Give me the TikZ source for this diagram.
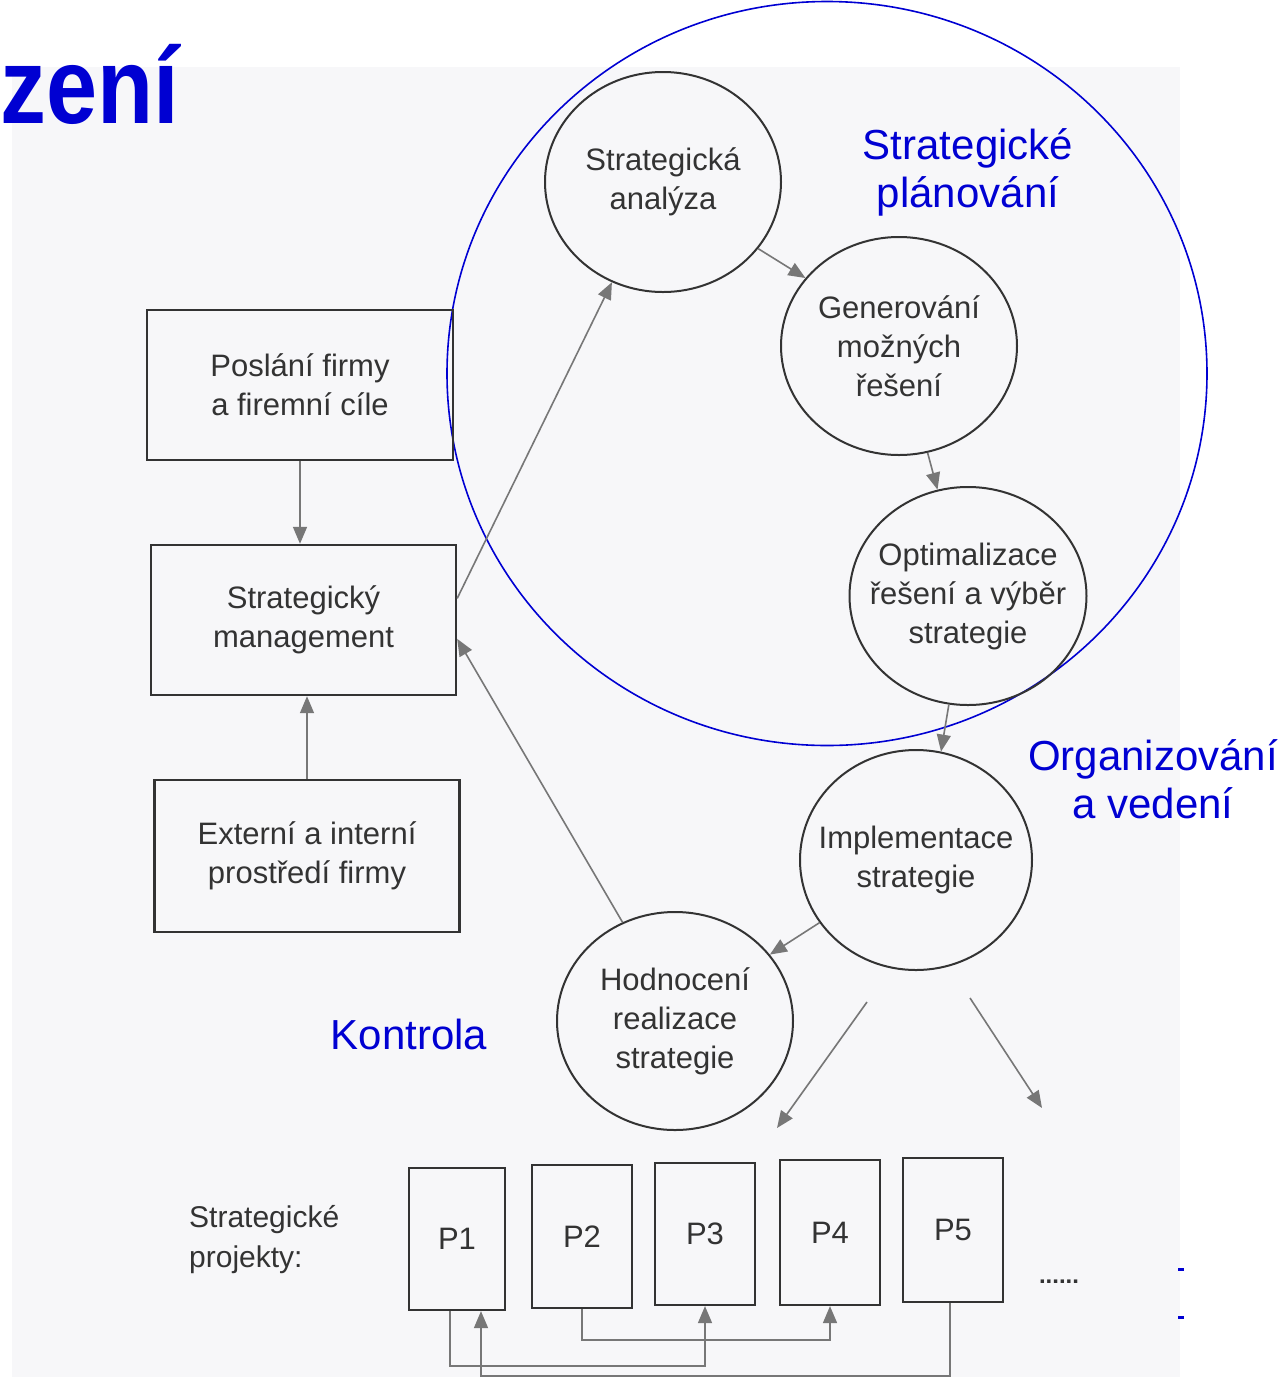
\documentclass[tikz,border=0pt]{standalone}
\usepackage{fontspec}
\setmainfont{Liberation Sans}
\usetikzlibrary{shapes.geometric,arrows.meta,calc}
\definecolor{ink}{HTML}{333333}
\definecolor{arr}{HTML}{777777}
\definecolor{lab}{RGB}{0,0,210}
\definecolor{page}{HTML}{F7F7F9}
\begin{document}
\begin{tikzpicture}[x=1pt,y=-1pt,
  txt/.style={text=ink, align=center, font=\fontsize{31}{39}\selectfont, inner sep=0pt},
  circ/.style={ellipse, draw=ink, line width=2pt, inner sep=0pt},
  box/.style={rectangle, draw=ink, line width=2.4pt, txt, inner sep=0pt},
  pbox/.style={rectangle, draw=ink, line width=2.2pt, txt, inner sep=0pt},
  conn/.style={draw=arr, line width=1.6pt, -{Triangle[length=17pt,width=14pt]}},
  bluelab/.style={text=lab, align=center, font=\fontsize{42}{48}\selectfont, inner sep=0pt}]
\useasboundingbox (0,0) rectangle (1280,1377);
\fill[page] (12,67) rectangle (1180,1377);

% title
\node[anchor=base west, text=lab, font=\fontsize{108}{108}\bfseries\selectfont, inner sep=0pt] (title) at (0,123) {\scalebox{0.85}[1]{zení}};

% big blue ellipse
\draw[lab, line width=1.6pt] (827,373.5) ellipse [x radius=380, y radius=372];

% circles
\node[circ, minimum width=236, minimum height=220, label={[txt]center:Strategická\\analýza}] (anal) at (663,182) {};
\node[circ, minimum width=236, minimum height=218, label={[txt]center:Generování\\možných\\řešení}] (gen) at (899,346) {};
\node[circ, minimum width=237, minimum height=218, label={[txt]center:Optimalizace\\řešení a výběr\\strategie}] (opt) at (968,596) {};
\node[circ, minimum width=232, minimum height=220, label={[txt]center:Implementace\\strategie}] (impl) at (916,860) {};
\node[circ, minimum width=236, minimum height=218, label={[txt]center:Hodnocení\\realizace\\strategie}] (hodn) at (675,1021) {};

% rectangles
\node[box, minimum width=306, minimum height=150] (posl) at (300,385) {Poslání firmy\\a firemní cíle};
\node[box, minimum width=305, minimum height=150] (mgmt) at (303.5,620) {Strategický\\management};
\node[box, minimum width=305, minimum height=152] (ext) at (307,856) {Externí a interní\\prostředí firmy};

% projects
\node[txt, anchor=west, align=left, font=\fontsize{30}{40}\selectfont] (proj) at (189,1240) {Strategické\\projekty:};
\node[pbox, minimum width=96, minimum height=142] (p1) at (457,1239) {P1};
\node[pbox, minimum width=100, minimum height=143] (p2) at (582,1236.5) {P2};
\node[pbox, minimum width=100, minimum height=142] (p3) at (705,1234) {P3};
\node[pbox, minimum width=100, minimum height=145] (p4) at (830,1232.5) {P4};
\node[pbox, minimum width=100, minimum height=144] (p5) at (953,1230) {P5};
\node[txt, font=\fontsize{24}{24}\bfseries\selectfont] (dots) at (1059,1282) {......};

% blue labels
\node[bluelab] (lplan) at (968,172) {Strategické\\plánování};
\node[bluelab] (lorg) at (1153,779) {Organizování\\a vedení};
\node[bluelab] (lkon) at (409,1034) {Kontrola};

% small blue marks
\fill[lab] (1178,1268) rectangle (1184,1271);
\fill[lab] (1178,1316) rectangle (1184,1319);

% connectors
\draw[conn] (posl.south) -- (posl.south |- mgmt.north);
\draw[conn] (ext.north) -- (ext.north |- mgmt.south);
\draw[conn] (mgmt.8) -- (anal.243);
\draw[conn] (hodn.118) -- (mgmt.-7);
\draw[conn] (anal.-35) -- (gen.144);
\draw[conn] (gen.-75) -- (opt.106);
\draw[conn] (opt.-100) -- (impl.77);
\draw[conn] (impl.213) -- (hodn.35);

\coordinate (f1s) at (867,1002);
\coordinate (f1e) at (777,1128);
\coordinate (f2s) at (970,998);
\coordinate (f2e) at (1042,1108);
\draw[conn] (f1s) -- (f1e);
\draw[conn] (f2s) -- (f2e);

\draw[conn] ([xshift=-7pt]p1.south) -- ++(0,55) -| (p3.south);
\draw[conn] (p2.south) -- ++(0,31) -| (p4.south);
\draw[conn] ([xshift=-3pt]p5.south) -- ++(0,73) -| ([xshift=24pt]p1.south);
\end{tikzpicture}
\end{document}
